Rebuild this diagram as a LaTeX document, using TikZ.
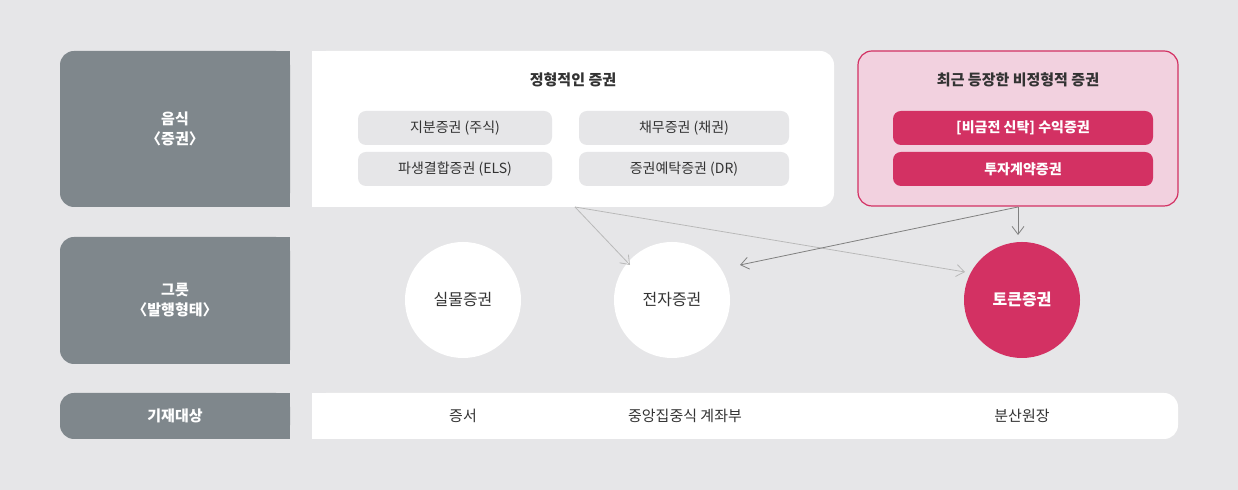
\documentclass[tikz,border=0pt]{standalone}
\usepackage{fontspec}
\setmainfont{Noto Sans CJK KR}
\definecolor{bg}{HTML}{E6E6E8}
\definecolor{sidegray}{HTML}{7F878C}
\definecolor{pinkbg}{HTML}{F2D1DF}
\definecolor{crim}{HTML}{D33163}
\definecolor{txt}{HTML}{333333}
\begin{document}
\begin{tikzpicture}[x=0.5pt,y=-0.5pt,
  side/.style={text=white,font=\fontsize{7.5}{10}\selectfont\bfseries,align=center},
  gpill/.style={fill=bg,rounded corners=4pt},
  ptxt/.style={text=txt,font=\fontsize{7}{9}\selectfont},
  arr/.style={draw=gray!70,line width=0.4pt,-{Straight Barb[length=4pt,width=6pt]}},
  circ/.style={circle,minimum size=58pt,inner sep=0pt,font=\fontsize{8}{10}\selectfont}]
\usetikzlibrary{arrows.meta}
\fill[bg] (0,0) rectangle (1238,490);
% left side boxes
\foreach \ya/\yb in {51/207,237/364,393/439}{
  \fill[sidegray,rounded corners=7pt] (60,\ya) rectangle (290,\yb);
  \fill[sidegray] (200,\ya) rectangle (290,\yb);}
\node[side] (s1) at (175,129) {음식\\〈증권〉};
\node[side] (s2) at (175,300) {그릇\\〈발행형태〉};
\node[side] (s3) at (175,416) {기재대상};
% white box
\fill[white,rounded corners=7pt] (312,51) rectangle (834,207);
\fill[white] (312,51) rectangle (600,207);
\node[font=\fontsize{7.5}{9}\selectfont\bfseries,text=txt] (t1) at (573,80) {정형적인 증권};
\fill[gpill] (358,111) rectangle (552,145); \node[ptxt] (p1) at (455,128) {지분증권 (주식)};
\fill[gpill] (579,111) rectangle (789,145); \node[ptxt] (p2) at (684,128) {채무증권 (채권)};
\fill[gpill] (358,152) rectangle (552,186); \node[ptxt] (p3) at (455,169) {파생결합증권 (ELS)};
\fill[gpill] (579,152) rectangle (789,186); \node[ptxt] (p4) at (684,169) {증권예탁증권 (DR)};
% pink box
\draw[fill=pinkbg,draw=crim,line width=0.6pt,rounded corners=7pt] (858,51) rectangle (1178,206);
\node[font=\fontsize{7.5}{9}\selectfont\bfseries,text=txt] (t2) at (1018,80) {최근 등장한 비정형적 증권};
\fill[crim,rounded corners=4pt] (893,111) rectangle (1153,145);
\node[text=white,font=\fontsize{7}{9}\selectfont\bfseries] (q1) at (1023,128) {[비금전 신탁] 수익증권};
\fill[crim,rounded corners=4pt] (893,152) rectangle (1153,186);
\node[text=white,font=\fontsize{7}{9}\selectfont\bfseries] (q2) at (1023,169) {투자계약증권};
% circles
\node[circ,fill=white,text=txt] (c1) at (463,300) {실물증권};
\node[circ,fill=white,text=txt] (c2) at (672,300) {전자증권};
\node[circ,fill=crim,text=white,font=\fontsize{8}{10}\selectfont\bfseries] (c3) at (1022,300) {토큰증권};
% arrows
\coordinate (a0) at (575,207);
\coordinate (b0) at (1018,207);
\coordinate (a1) at (630,265);
\coordinate (a2) at (965,272);
\coordinate (b1) at (740,265);
\coordinate (b2) at (1018,235);
\draw[arr,draw=gray!55] (a0) -- (a1);
\draw[arr,draw=gray!55] (a0) -- (a2);
\draw[arr,draw=gray] (b0) -- (b1);
\draw[arr,draw=gray] (b0) -- (b2);
% bottom row
\fill[white,rounded corners=7pt] (312,393) rectangle (1178,439);
\fill[white] (312,393) rectangle (400,439);
\node[ptxt,font=\fontsize{7.5}{9}\selectfont] (r1) at (463,416) {증서};
\node[ptxt,font=\fontsize{7.5}{9}\selectfont] (r2) at (685,416) {중앙집중식 계좌부};
\node[ptxt,font=\fontsize{7.5}{9}\selectfont] (r3) at (1022,416) {분산원장};
\end{tikzpicture}
\end{document}
